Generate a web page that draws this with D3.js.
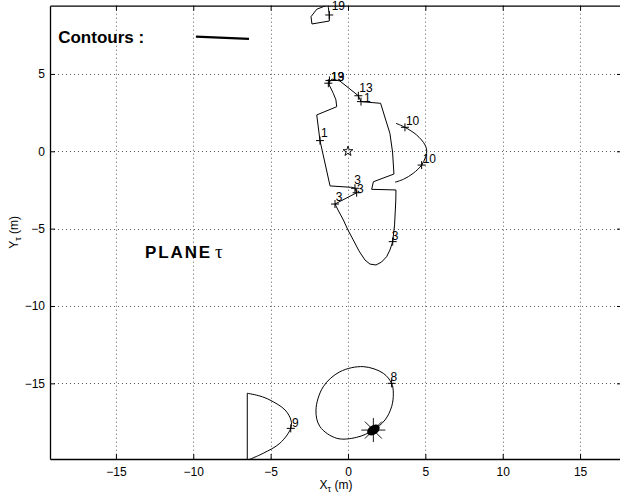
<!DOCTYPE html>
<html><head><meta charset="utf-8">
<script src="https://cdn.jsdelivr.net/npm/d3@7"></script>
<style>
body{margin:0;background:#fff}
svg{display:block}
text{font-family:"Liberation Sans",Arial,Helvetica,sans-serif;fill:#000}
</style>
</head><body>
<svg id="chart" width="620" height="497"></svg>
<script>
// Axis ticks and limits (metres, plane tau)
const xTicks = [-15, -10, -5, 0, 5, 10, 15];
const yTicks = [5, 0, -5, -10, -15];
const xLimits = [-19.26, 17.71];
const yLimits = [-19.89, 9.41];

// Contour lines
const contourTop = [[-1.30,9.70],[-1.44,9.41],[-2.02,9.18],[-2.39,8.70],[-2.33,8.23],[-1.21,8.42],[-1.21,8.86],[-1.27,9.30],[-1.25,9.70]];
const contourMain = [[-1.27,4.40],[-1.03,4.67],[-0.52,4.54],[0.67,3.59],[0.84,3.21],[2.11,3.10],[2.44,2.02],[2.71,1.16],[2.88,-0.05],[2.97,-1.47],[1.64,-1.97],[1.53,-2.46],[3.10,-2.50],[3.09,-3.15],[3.06,-3.79],[3.01,-4.76],[2.89,-5.84],[2.71,-6.38],[2.50,-6.81],[2.17,-7.16],[1.81,-7.35],[1.42,-7.29],[1.10,-7.03],[0.71,-6.44],[0.34,-5.73],[0.00,-5.09],[-0.30,-4.44],[-0.61,-3.86],[-0.84,-3.41],[0.56,-2.68],[0.45,-2.39],[0.24,-2.33],[-1.16,-2.24],[-1.81,0.69],[-2.02,2.35],[-0.73,2.88],[-0.78,3.32],[-0.95,3.75],[-1.27,4.40]];
const contourRight = [[3.10,1.81],[3.68,1.55],[4.44,1.05],[4.98,0.41],[5.09,-0.03],[4.98,-0.45],[4.76,-0.89],[4.22,-1.42],[3.58,-1.81],[3.04,-2.00]];
const contourLoop = [[2.82,-15.00],[2.93,-15.64],[2.82,-16.51],[2.39,-17.37],[1.64,-18.02],[0.56,-18.49],[-0.73,-18.55],[-1.81,-17.80],[-2.07,-16.72],[-1.60,-15.22],[-0.52,-14.25],[0.99,-13.92],[2.28,-14.35]];
const contourEdge = [[-6.51,-20.10],[-6.51,-15.64]];
const contourArc = [[-6.51,-15.64],[-5.69,-15.82],[-5.04,-16.08],[-4.07,-16.72],[-3.68,-17.40],[-3.70,-17.91],[-4.40,-18.87],[-5.48,-19.52],[-6.45,-19.95]];

// Labelled contour points
const labelPoints = [
  {x:-1.21, y:8.81, label:"19"},
  {x:-1.27, y:4.40, label:"19"},
  {x:-1.20, y:4.58, label:"13"},
  {x:0.67, y:3.59, label:"13"},
  {x:0.84, y:3.21, label:"1"},
  {x:-1.81, y:0.69, label:"1"},
  {x:0.45, y:-2.39, label:"3"},
  {x:0.56, y:-2.68, label:"3"},
  {x:-0.84, y:-3.41, label:"3"},
  {x:2.89, y:-5.84, label:"3"},
  {x:3.68, y:1.55, label:"10"},
  {x:4.76, y:-0.89, label:"10"},
  {x:2.82, y:-15.00, label:"8"},
  {x:-3.70, y:-17.91, label:"9"}
];
const originPoint = [0, 0];
const sourcePoint = [1.64, -18.02];
const legendSample = [[-9.83, 7.41], [-6.40, 7.26]];
const legendTitle = {x:-18.73, y:6.98, text:"Contours :"};
const planeTitle = {x:-13.12, y:-6.92, text:"PLANE"};

// label placement relative to each "+" (px)
const labelShift = [[2.4,-5],[2.7,-2.6],[1.5,0.5],[1,-3.8],[3,0.8],[1,-3.4],[-0.7,-3.8],[0.3,0.2],[0.7,-3.3],[-1,-1.7],[1,-2.3],[1,-2.3],[-1,-2.6],[1.3,-1.6]];

const plot = {left:50, right:622, top:5.7, bottom:459};
const svg = d3.select("#chart");
const x = d3.scaleLinear().domain(xLimits).range([plot.left, plot.right]);
const y = d3.scaleLinear().domain(yLimits).range([plot.bottom, plot.top]);
const fmt = d => d < 0 ? "\u2212" + Math.abs(d) : String(d);

svg.append("defs").append("clipPath").attr("id","clip")
  .append("rect").attr("x",plot.left).attr("y",plot.top)
  .attr("width",plot.right-plot.left).attr("height",plot.bottom-plot.top);

// dotted grid
const grid = svg.append("g").attr("stroke","#333").attr("stroke-width",0.8).attr("stroke-dasharray","1 3");
grid.selectAll("line.v").data(xTicks).join("line").attr("class","v")
  .attr("x1",d=>Math.round(x(d))+0.5).attr("x2",d=>Math.round(x(d))+0.5)
  .attr("y1",plot.top).attr("y2",plot.bottom);
grid.selectAll("line.h").data(yTicks).join("line").attr("class","h")
  .attr("y1",d=>Math.round(y(d))+0.5).attr("y2",d=>Math.round(y(d))+0.5)
  .attr("x1",plot.left).attr("x2",plot.right);

// axes with inward ticks
const axB = svg.append("g").attr("transform",`translate(0,${plot.bottom})`)
  .call(d3.axisBottom(x).tickValues(xTicks).tickFormat(fmt).tickSizeInner(-5).tickSizeOuter(0).tickPadding(8));
const axT = svg.append("g").attr("transform",`translate(0,${plot.top})`)
  .call(d3.axisTop(x).tickValues(xTicks).tickFormat("").tickSizeInner(-5).tickSizeOuter(0));
const axL = svg.append("g").attr("transform",`translate(${plot.left},0)`)
  .call(d3.axisLeft(y).tickValues(yTicks).tickFormat(fmt).tickSizeInner(-5).tickSizeOuter(0).tickPadding(5));
const axR = svg.append("g").attr("transform",`translate(${plot.right},0)`)
  .call(d3.axisRight(y).tickValues(yTicks).tickFormat("").tickSizeInner(-5).tickSizeOuter(0));
[axB,axT,axL,axR].forEach(g=>{
  g.select(".domain").attr("stroke","#000").attr("stroke-width",1.3);
  g.selectAll(".tick line").attr("stroke","#000");
  g.selectAll(".tick text").attr("font-size",12).attr("font-family","'Liberation Sans',Arial,sans-serif").attr("fill","#000");
});

// contour lines
const body = svg.append("g").attr("clip-path","url(#clip)").attr("fill","none").attr("stroke","#000").attr("stroke-width",1);
const straight = d3.line().x(d=>x(d[0])).y(d=>y(d[1]));
const smooth = d3.line().x(d=>x(d[0])).y(d=>y(d[1])).curve(d3.curveCatmullRom.alpha(0.5));
const smoothClosed = d3.line().x(d=>x(d[0])).y(d=>y(d[1])).curve(d3.curveCatmullRomClosed.alpha(0.5));
body.append("path").attr("d",straight(contourTop));
body.append("path").attr("d",straight(contourMain));
body.append("path").attr("d",smooth(contourRight));
body.append("path").attr("d",smoothClosed(contourLoop));
body.append("path").attr("d",straight(contourEdge));
body.append("path").attr("d",smooth(contourArc));

// "+" markers and their labels
const marks = svg.append("g").attr("stroke","#000").attr("stroke-width",1);
labelPoints.forEach((p,i)=>{
  const cx = x(p.x), cy = y(p.y);
  marks.append("path").attr("d",`M${cx-4},${cy}H${cx+4}M${cx},${cy-4}V${cy+4}`);
  svg.append("text").attr("x",cx+labelShift[i][0]).attr("y",cy+labelShift[i][1])
    .attr("font-size",12).text(p.label);
});

// origin pentagram
const star = d3.symbol().type(d3.symbolStar).size(30);
svg.append("path").attr("d",star()).attr("transform",`translate(${x(originPoint[0])},${y(originPoint[1])})`)
  .attr("fill","none").attr("stroke","#000").attr("stroke-width",0.9);

// source marker: filled ellipse with spokes
const sg = svg.append("g").attr("transform",`translate(${x(sourcePoint[0])},${y(sourcePoint[1])})`);
d3.range(8).forEach(k=>{
  const a = k*Math.PI/4;
  sg.append("line").attr("x1",0).attr("y1",0).attr("x2",12*Math.cos(a)).attr("y2",12*Math.sin(a))
    .attr("stroke","#000").attr("stroke-width",0.9);
});
sg.append("ellipse").attr("rx",7).attr("ry",4.6).attr("transform","rotate(-35)").attr("fill","#000");

// annotations
svg.append("text").attr("x",x(legendTitle.x)).attr("y",y(legendTitle.y))
  .attr("font-size",17).attr("font-weight","bold").text(legendTitle.text);
svg.append("path").attr("d",straight(legendSample)).attr("stroke","#000").attr("stroke-width",2.2).attr("fill","none");
const pt = svg.append("text").attr("x",x(planeTitle.x)).attr("y",y(planeTitle.y))
  .attr("font-size",17).attr("font-weight","bold");
pt.append("tspan").attr("letter-spacing",1.9).text(planeTitle.text);
pt.append("tspan").attr("dx",3).attr("font-weight","normal").attr("font-size",19)
  .attr("font-family","'Liberation Serif','DejaVu Serif',serif").text("\u03c4");

// axis titles
const xt = svg.append("text").attr("x",(plot.left+plot.right)/2).attr("y",489).attr("text-anchor","middle").attr("font-size",12);
xt.append("tspan").text("X");
xt.append("tspan").attr("font-size",9).attr("dy",3).text("\u03c4");
xt.append("tspan").attr("dy",-3).text(" (m)");
const yt = svg.append("text").attr("transform",`translate(18,${(plot.top+plot.bottom)/2}) rotate(-90)`)
  .attr("text-anchor","middle").attr("font-size",12);
yt.append("tspan").text("Y");
yt.append("tspan").attr("font-size",9).attr("dy",3).text("\u03c4");
yt.append("tspan").attr("dy",-3).text(" (m)");
</script>
</body></html>
